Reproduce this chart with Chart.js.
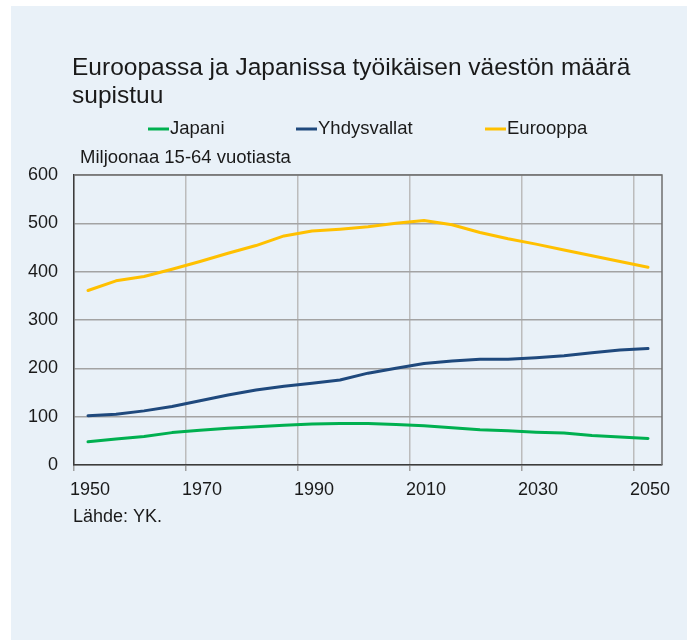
<!DOCTYPE html>
<html>
<head>
<meta charset="utf-8">
<script src="https://cdn.jsdelivr.net/npm/chart.js@4.4.1/dist/chart.umd.min.js"></script>
<style>
html,body{margin:0;padding:0;background:#fff;}
#wrap{width:687px;height:640px;position:relative;}
</style>
</head>
<body>
<div id="wrap"><canvas id="c" width="687" height="640"></canvas></div>
<script>
// ---- data ----
const years = [1952.5, 1957.5, 1962.5, 1967.5, 1972.5, 1977.5, 1982.5, 1987.5, 1992.5, 1997.5, 2002.5,
               2007.5, 2012.5, 2017.5, 2022.5, 2027.5, 2032.5, 2037.5, 2042.5, 2047.5, 2052.5];
const japani = [48, 54, 59, 67, 72, 76, 79, 82, 85, 86, 86, 84, 81, 77, 73, 71, 68, 66, 61, 58, 55];
const yhdysvallat = [102, 105, 112, 121, 133, 145, 155, 163, 169, 176, 190, 200, 210, 215, 219, 219, 222, 226, 232, 238, 241];
const eurooppa = [361, 381, 390, 405, 421, 438, 454, 474, 484, 488, 493, 500, 506, 497, 481, 468, 457, 445, 433, 421, 409];
const seriesNames = ['Japani', 'Yhdysvallat', 'Eurooppa'];
const xTicks = [1950, 1970, 1990, 2010, 2030, 2050];
const yTicks = [0, 100, 200, 300, 400, 500, 600];
const titleLines = ['Euroopassa ja Japanissa työikäisen väestön määrä', 'supistuu'];
const unitLabel = 'Miljoonaa 15-64 vuotiasta';
const sourceLabel = 'Lähde: YK.';

const FONT = '"Liberation Sans", Arial, Helvetica, sans-serif';
const TXT = '#1a1a1a';
const BG = '#e9f1f8';
const colors = ['#00b050', '#1f497d', '#ffc000'];

function pts(vals){ return years.map((x,i)=>({x:x, y:vals[i]})); }

const decor = {
  id: 'decor',
  beforeDraw(chart){
    const ctx = chart.ctx;
    ctx.save();
    ctx.fillStyle = '#ffffff';
    ctx.fillRect(0,0,chart.width,chart.height);
    ctx.fillStyle = BG;
    ctx.fillRect(11,6,chart.width-11,chart.height-6);
    ctx.restore();
  },
  afterDraw(chart){
    const ctx = chart.ctx;
    const a = chart.chartArea;
    ctx.save();
    // top & right border
    ctx.strokeStyle = '#6f6f6f';
    ctx.lineWidth = 1.5;
    ctx.beginPath();
    ctx.moveTo(a.left, a.top); ctx.lineTo(a.right, a.top); ctx.lineTo(a.right, a.bottom);
    ctx.stroke();
    // title
    ctx.fillStyle = TXT;
    ctx.textBaseline = 'middle';
    ctx.textAlign = 'left';
    ctx.font = '24.5px ' + FONT;
    ctx.fillText(titleLines[0], 72, 68);
    ctx.fillText(titleLines[1], 72, 96);
    // legend
    ctx.font = '18.5px ' + FONT;
    const lx = [148, 296, 485];
    chart.data.datasets.forEach((ds,i)=>{
      ctx.strokeStyle = ds.borderColor;
      ctx.lineWidth = 3;
      ctx.beginPath();
      ctx.moveTo(lx[i], 129); ctx.lineTo(lx[i]+21, 129);
      ctx.stroke();
      ctx.fillStyle = TXT;
      ctx.fillText(ds.label, lx[i]+22, 129);
    });
    // unit label
    ctx.fillText(unitLabel, 80, 158);
    // source
    ctx.font = '18px ' + FONT;
    ctx.fillText(sourceLabel, 73, 517);
    ctx.restore();
  }
};

new Chart(document.getElementById('c'), {
  type: 'line',
  data: {
    datasets: [
      {label: seriesNames[0], data: pts(japani), borderColor: colors[0]},
      {label: seriesNames[1], data: pts(yhdysvallat), borderColor: colors[1]},
      {label: seriesNames[2], data: pts(eurooppa), borderColor: colors[2]}
    ]
  },
  options: {
    responsive: false,
    animation: false,
    devicePixelRatio: 1,
    layout: {padding: {left: 11, right: 25, top: 175, bottom: 130}},
    elements: {
      point: {radius: 0},
      line: {borderWidth: 3, tension: 0, borderCapStyle: 'round', borderJoinStyle: 'round'}
    },
    plugins: {legend: {display: false}, title: {display: false}, tooltip: {enabled: false}},
    scales: {
      x: {
        type: 'linear', min: 1950, max: 2055,
        afterBuildTicks(s){ s.ticks = xTicks.map(v=>({value:v})); },
        afterFit(s){ s.height = 45; },
        grid: {color: '#bcbcbc', lineWidth: 1.5, drawTicks: true, tickLength: 6, tickColor: '#a0a0a0'},
        border: {display: true, color: '#3c3c3c', width: 1.5},
        ticks: {color: TXT, font: {family: FONT, size: 18}, padding: 8, labelOffset: 16, maxRotation: 0, autoSkip: false,
                callback: v => String(v)}
      },
      y: {
        min: 0, max: 600,
        afterBuildTicks(s){ s.ticks = yTicks.map(v=>({value:v})); },
        afterFit(s){ s.width = 63; },
        grid: {color: '#a3a3a3', lineWidth: 1.5, drawTicks: false},
        border: {display: true, color: '#3c3c3c', width: 1.5},
        ticks: {color: TXT, font: {family: FONT, size: 18}, padding: 16, callback: v => String(v)}
      }
    }
  },
  plugins: [decor]
});
</script>
</body>
</html>
